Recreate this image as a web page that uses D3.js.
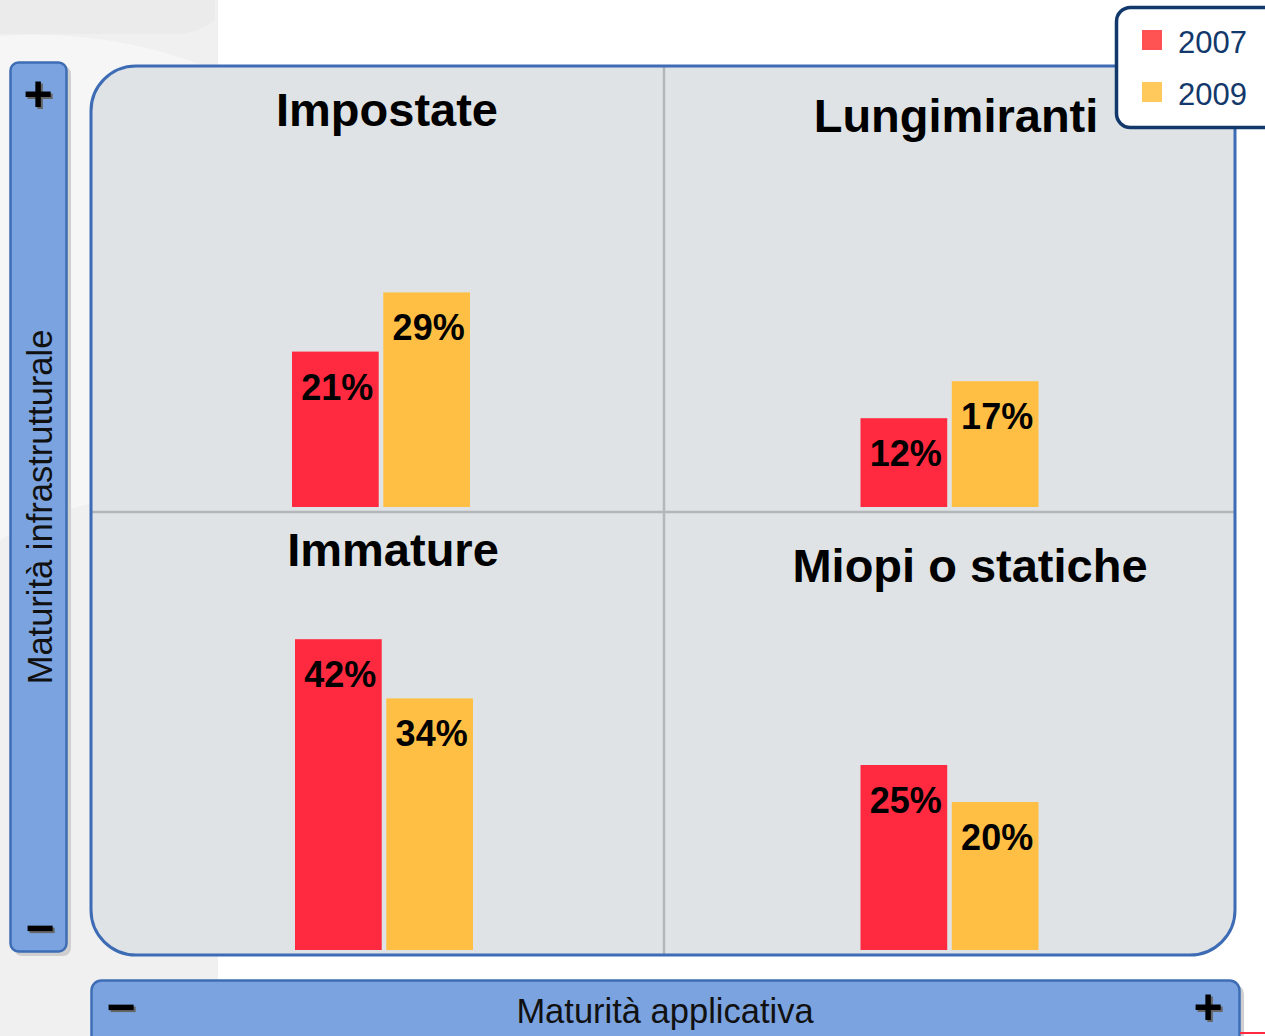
<!DOCTYPE html>
<html>
<head>
<meta charset="utf-8">
<script src="https://cdn.jsdelivr.net/npm/d3@7"></script>
<style>
  html, body { margin: 0; padding: 0; background: #fff; overflow: hidden; }
  svg { display: block; font-family: 'Liberation Sans', Arial, sans-serif; }
</style>
</head>
<body>
<div id="chart"></div>
<script>
// Data
const quadrants = ['Impostate', 'Lungimiranti', 'Immature', 'Miopi o statiche'];
const years = ['2007', '2009'];
const values2007 = [21, 12, 42, 25];
const values2009 = [29, 17, 34, 20];
const yAxisLabel = 'Maturità infrastrutturale';
const xAxisLabel = 'Maturità applicativa';

// Dimensions
const WIDTH = 1265;
const HEIGHT = 1036;
const PANEL = { X0: 91, X1: 1235, Y0: 66, Y1: 955, MX: 664, MY: 512 };
const COLORS = { '2007': '#ff2a40', '2009': '#ffbf45' };
const LEGEND_COLORS = { '2007': '#ff5252', '2009': '#ffc95c' };

// quadrant layout: bar group center, baseline, title position
const layout = [
  { cx: 381, base: 507, tx: 387, ty: 126 },
  { cx: 949.5, base: 507, tx: 956, ty: 132 },
  { cx: 384, base: 950, tx: 393, ty: 566 },
  { cx: 949.5, base: 950, tx: 970, ty: 582 }
];

const svg = d3
  .select('#chart')
  .append('svg')
  .attr('width', WIDTH)
  .attr('height', HEIGHT);

// faint watermark in the background
svg.append('rect').attr('x', 0).attr('y', 0).attr('width', 218).attr('height', HEIGHT).attr('fill', '#f0f0f0');
svg.append('path')
  .attr('d', 'M0,36 Q110,28 215,70 L215,520 Q120,470 0,540 Z')
  .attr('fill', '#f6f6f6');
svg.append('path')
  .attr('d', 'M0,0 L215,0 L215,20 Q200,34 170,34 L0,34 Z')
  .attr('fill', '#ebebeb');

// Left axis bar (vertical)
svg.append('rect')
  .attr('x', 14).attr('y', 66).attr('width', 57).attr('height', 890)
  .attr('rx', 8).attr('fill', '#cfcfcf');
svg.append('rect')
  .attr('x', 10.5).attr('y', 62.5).attr('width', 56).attr('height', 889)
  .attr('rx', 8).attr('fill', '#7ba3e0').attr('stroke', '#3e6db5').attr('stroke-width', 2.5);

// Bottom axis bar (horizontal)
svg.append('rect')
  .attr('x', 95).attr('y', 984).attr('width', 1149).attr('height', 70)
  .attr('rx', 10).attr('fill', '#cfcfcf');
svg.append('rect')
  .attr('x', 91.5).attr('y', 980.5).attr('width', 1148).attr('height', 70)
  .attr('rx', 10).attr('fill', '#7ba3e0').attr('stroke', '#3e6db5').attr('stroke-width', 2.5);
svg.append('line')
  .attr('x1', 1240).attr('x2', 1265).attr('y1', 1033).attr('y2', 1033)
  .attr('stroke', '#ff2a40').attr('stroke-width', 2);

// plus / minus signs with a little shadow
const sign = (x, y, s) => {
  svg.append('text').attr('x', x + 2).attr('y', y + 2).attr('text-anchor', 'middle')
    .attr('font-size', 50).attr('font-weight', 'bold').attr('fill', '#666').text(s);
  svg.append('text').attr('x', x).attr('y', y).attr('text-anchor', 'middle')
    .attr('font-size', 50).attr('font-weight', 'bold').attr('fill', '#000').text(s);
};
sign(38, 111, '+');
sign(40, 945, '−');
sign(121, 1024, '−');
sign(1208, 1024, '+');

svg.append('text')
  .attr('transform', 'translate(52, 507) rotate(-90)')
  .attr('text-anchor', 'middle')
  .attr('font-size', 34.5)
  .attr('fill', '#111')
  .text(yAxisLabel);

svg.append('text')
  .attr('x', 665).attr('y', 1023)
  .attr('text-anchor', 'middle')
  .attr('font-size', 34.5)
  .attr('fill', '#111')
  .text(xAxisLabel);

// Main panel
svg.append('rect')
  .attr('x', PANEL.X0).attr('y', PANEL.Y0)
  .attr('width', PANEL.X1 - PANEL.X0).attr('height', PANEL.Y1 - PANEL.Y0)
  .attr('rx', 45)
  .attr('fill', '#dfe3e6');

svg.append('line')
  .attr('x1', PANEL.MX).attr('x2', PANEL.MX).attr('y1', PANEL.Y0).attr('y2', PANEL.Y1)
  .attr('stroke', '#b3b7bb').attr('stroke-width', 2.5);
svg.append('line')
  .attr('x1', PANEL.X0).attr('x2', PANEL.X1).attr('y1', PANEL.MY).attr('y2', PANEL.MY)
  .attr('stroke', '#b3b7bb').attr('stroke-width', 2.5);

// Scales
const y = d3.scaleLinear().domain([0, 100]).range([0, 740]);

const data = quadrants.map((q, i) => ({
  name: q,
  values: [
    { year: years[0], value: values2007[i] },
    { year: years[1], value: values2009[i] }
  ],
  ...layout[i]
}));

const groups = svg.selectAll('g.quad')
  .data(data)
  .enter()
  .append('g')
  .attr('class', 'quad');

groups.each(function (d) {
  const g = d3.select(this);
  const x = d3.scaleBand()
    .domain(years)
    .range([d.cx - 89, d.cx + 89])
    .paddingInner(0.05);

  g.selectAll('rect')
    .data(d.values)
    .enter()
    .append('rect')
    .attr('x', (v) => x(v.year))
    .attr('y', (v) => d.base - y(v.value))
    .attr('width', x.bandwidth())
    .attr('height', (v) => y(v.value))
    .attr('fill', (v) => COLORS[v.year]);

  g.selectAll('text.val')
    .data(d.values)
    .enter()
    .append('text')
    .attr('class', 'val')
    .attr('x', (v) => x(v.year) + x.bandwidth() / 2 + 2)
    .attr('y', (v) => d.base - y(v.value) + 48)
    .attr('text-anchor', 'middle')
    .attr('font-size', 36)
    .attr('font-weight', 'bold')
    .attr('fill', '#000')
    .text((v) => v.value + '%');

  g.append('text')
    .attr('x', d.tx)
    .attr('y', d.ty)
    .attr('text-anchor', 'middle')
    .attr('font-size', 47)
    .attr('font-weight', 'bold')
    .attr('fill', '#000')
    .text(d.name);
});

// panel border on top
svg.append('rect')
  .attr('x', PANEL.X0).attr('y', PANEL.Y0)
  .attr('width', PANEL.X1 - PANEL.X0).attr('height', PANEL.Y1 - PANEL.Y0)
  .attr('rx', 45)
  .attr('fill', 'none')
  .attr('stroke', '#3d6cb5')
  .attr('stroke-width', 3);

// Legend
const legend = svg.append('g');
legend.append('rect')
  .attr('x', 1116.5).attr('y', 7.5).attr('width', 165).attr('height', 120)
  .attr('rx', 14)
  .attr('fill', '#fff')
  .attr('stroke', '#13386b')
  .attr('stroke-width', 3.5);

legend.selectAll('rect.key')
  .data(years)
  .enter()
  .append('rect')
  .attr('class', 'key')
  .attr('x', 1142)
  .attr('y', (d, i) => 30 + i * 52)
  .attr('width', 20)
  .attr('height', 20)
  .attr('fill', (d) => LEGEND_COLORS[d]);

legend.selectAll('text')
  .data(years)
  .enter()
  .append('text')
  .attr('x', 1178)
  .attr('y', (d, i) => 53 + i * 52)
  .attr('font-size', 31)
  .attr('fill', '#13386b')
  .text((d) => d);
</script>
</body>
</html>
